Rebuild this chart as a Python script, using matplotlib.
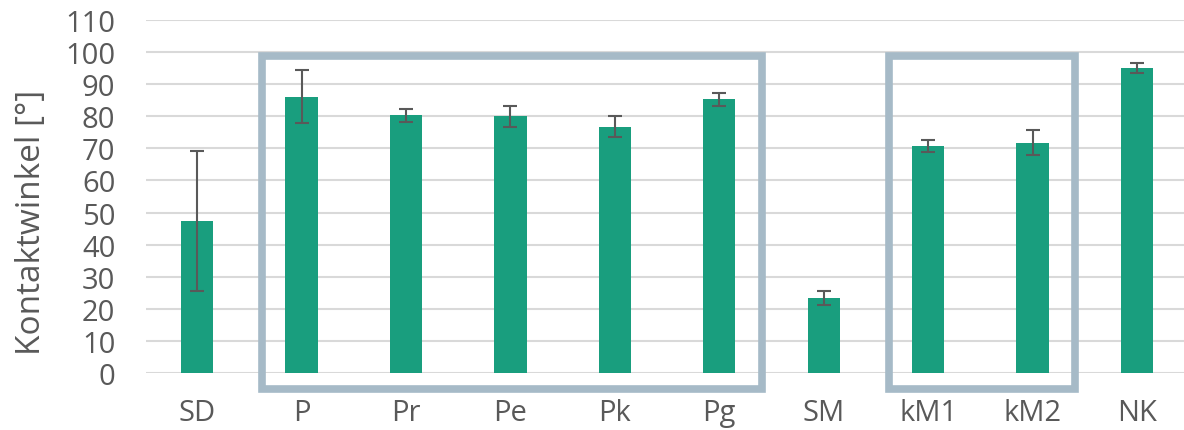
import matplotlib.pyplot as plt
from matplotlib.patches import Rectangle

plt.rcParams['font.family'] = ['Open Sans', 'DejaVu Sans']

categories = ["SD", "P", "Pr", "Pe", "Pk", "Pg", "SM", "kM1", "kM2", "NK"]
values = [47.4, 86.1, 80.3, 80.0, 76.8, 85.3, 23.3, 70.7, 71.8, 95.0]
errors = [21.7, 8.2, 2.0, 3.3, 3.3, 2.1, 2.1, 1.8, 4.0, 1.6]

# groups framed by a box (first index, last index)
groups = [(1, 5), (7, 8)]

fig = plt.figure(figsize=(11.84, 4.31), dpi=100)
ax = fig.add_axes([0.1233, 0.1323, 0.8767, 0.819])

x = list(range(len(categories)))
ax.bar(x, values, width=0.31, color="#199e7e", zorder=3)
ax.errorbar(x, values, yerr=errors, fmt="none", ecolor="#595959",
            elinewidth=1.5, capsize=5, capthick=1.5, zorder=4)

for a, b in groups:
    ax.add_patch(Rectangle((a - 0.375, -5.0), (b - a) + 0.785, 103.8,
                           fill=False, edgecolor="#a6bac7", linewidth=5.5,
                           clip_on=False, zorder=5))

ax.set_xlim(-0.49, 9.45)
ax.set_ylim(0, 110)
ax.set_yticks(range(0, 111, 10))
ax.set_xticks(x)
ax.set_xticklabels(categories)
ax.yaxis.grid(True, color="#d9d9d9", linewidth=1.5, zorder=0)
ax.set_axisbelow(True)
for s in ax.spines.values():
    s.set_visible(False)
ax.tick_params(axis="both", length=0, labelsize=21, colors="#595959")
ax.tick_params(axis="x", pad=18)
ax.tick_params(axis="y", pad=22)
ax.set_ylabel("Kontaktwinkel [°]", fontsize=24, color="#595959")
ax.yaxis.set_label_coords(-0.094, 0.43)

fig.savefig("out.png", dpi=100)
